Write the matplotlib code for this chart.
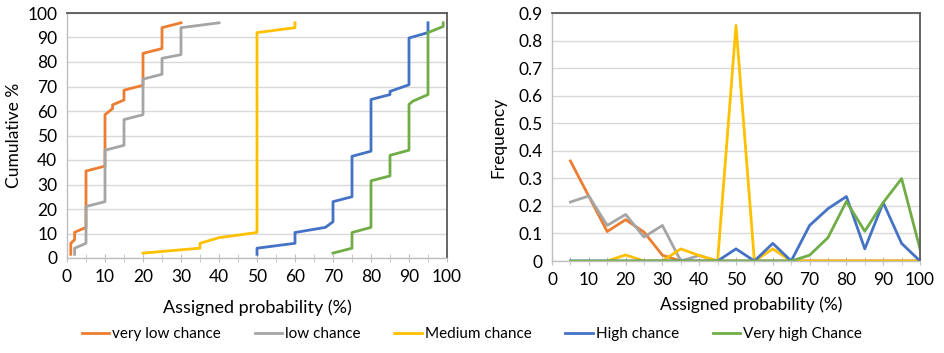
import matplotlib
matplotlib.use("Agg")
import matplotlib.pyplot as plt
import numpy as np

plt.rcParams['font.family'] = ['Lato', 'DejaVu Sans']

# ── 데이터: 누적 분포 (왼쪽) ──────────────────────────────────────────
vlow_x = [1, 1, 2, 2, 5, 5, 10, 10, 12, 12, 15, 15, 20, 20, 25, 25, 30]
vlow_y = [1.5, 6, 7.5, 10.5, 12.5, 35.5, 37.5, 58.5, 61, 62.5, 64.5, 68.5, 70.5, 83.5, 85.5, 94, 96]

low_x = [2, 2, 5, 5, 10, 10, 15, 15, 20, 20, 25, 25, 30, 30, 40]
low_y = [1.5, 4, 6, 21, 23, 44, 46, 56.5, 58.5, 73, 75, 81.5, 83, 94, 96]

med_x = [20, 35, 35, 40, 50, 50, 60, 60]
med_y = [2, 4, 6, 8.3, 10.4, 92, 94, 96]

high_x = [50, 50, 60, 60, 68, 70, 70, 75, 75, 80, 80, 85, 85, 90, 90, 95, 95]
high_y = [1.5, 4, 6, 10.4, 12.5, 14.8, 23, 25, 41.5, 43.6, 64.7, 66.7, 68, 70.7, 89.8, 92, 96]

vhigh_x = [70, 75, 75, 80, 80, 85, 85, 90, 90, 91, 95, 95, 99, 99]
vhigh_y = [2, 4, 10.4, 12.5, 31.5, 33.5, 41.9, 44, 62.7, 64, 66.7, 92, 94.5, 96]

# ── 데이터: 빈도 (오른쪽) ────────────────────────────────────────────
prob = [5, 10, 15, 20, 25, 30, 35, 40, 45, 50, 55, 60, 65, 70, 75, 80, 85, 90, 95, 100]
f_vlow = [0.363, 0.235, 0.107, 0.15, 0.105, 0.021, 0, 0, 0, 0, 0, 0, 0, 0, 0, 0, 0, 0, 0, 0]
f_low = [0.214, 0.236, 0.129, 0.169, 0.087, 0.129, 0, 0.02, 0, 0, 0, 0, 0, 0, 0, 0, 0, 0, 0, 0]
f_med = [np.nan, np.nan, 0, 0.022, 0, 0, 0.044, 0.02, 0, 0.855, 0, 0.044, 0, 0, 0, 0, 0, 0, 0, 0]
f_high = [0, 0, 0, 0, 0, 0, 0, 0, 0, 0.044, 0, 0.064, 0, 0.129, 0.19, 0.234, 0.044, 0.212, 0.064, 0]
f_vhigh = [0, 0, 0, 0, 0, 0, 0, 0, 0, 0, 0, 0, 0, 0.021, 0.085, 0.216, 0.108, 0.212, 0.299, 0.044]

labels = ["very low chance", "low chance", "Medium chance", "High chance", "Very high Chance"]
colors = ["#ED7D31", "#A5A5A5", "#FFC000", "#4472C4", "#70AD47"]

cum_series = [(vlow_x, vlow_y), (low_x, low_y), (med_x, med_y),
              (high_x, high_y), (vhigh_x, vhigh_y)]
freq_series = [f_vlow, f_low, f_med, f_high, f_vhigh]

fig = plt.figure(figsize=(9.45, 3.53), dpi=100)
W, H = 945, 353
ax1 = fig.add_axes([67 / W, 1 - 258 / H, 380 / W, 245 / H])
ax2 = fig.add_axes([552 / W, 1 - 261 / H, 368 / W, 248 / H])


def style_axes(ax):
    ax.grid(axis="y", color="#d9d9d9", linewidth=1.0)
    ax.set_axisbelow(True)
    for s in ["top", "right"]:
        ax.spines[s].set_color("#595959")
        ax.spines[s].set_linewidth(1.3)
    for s in ["left", "bottom"]:
        ax.spines[s].set_color("#bfbfbf")
        ax.spines[s].set_linewidth(1.0)
    ax.set_xlim(0, 100)
    ax.set_xticks(np.arange(0, 101, 10))
    ax.set_xticks(np.arange(0, 101, 5), minor=True)
    ax.tick_params(axis="x", which="both", direction="inout", length=6,
                   color="#bfbfbf", labelsize=12.5, pad=5)
    ax.tick_params(axis="y", length=0, labelsize=12.5, pad=7)


# ── 왼쪽: 누적 % ────────────────────────────────────────────────────
handles = []
for (xs, ys), c, lab in zip(cum_series, colors, labels):
    h, = ax1.plot(xs, ys, color=c, linewidth=2.0, label=lab)
    handles.append(h)
style_axes(ax1)
ax1.set_ylim(0, 100)
ax1.set_yticks(np.arange(0, 101, 10))
ax1.set_ylabel("Cumulative %", fontsize=12.5)
ax1.set_xlabel("Assigned probability (%)", fontsize=13)
ax1.yaxis.set_label_coords(-0.118, 0.5)
ax1.xaxis.set_label_coords(0.5, -0.171)

# ── 오른쪽: 빈도 ─────────────────────────────────────────────────────
for ys, c in zip(freq_series, colors):
    ax2.plot(prob, ys, color=c, linewidth=2.0)
style_axes(ax2)
ax2.set_ylim(0, 0.9)
ax2.set_yticks(np.arange(0, 0.91, 0.1))
ax2.set_yticklabels(["0"] + [f"{v:.1f}" for v in np.arange(0.1, 0.91, 0.1)])
ax2.set_ylabel("Frequency", fontsize=12.5)
ax2.set_xlabel("Assigned probability (%)", fontsize=12.5)
ax2.yaxis.set_label_coords(-0.125, 0.5)
ax2.xaxis.set_label_coords(0.54, -0.142)

fig.legend(handles=handles, loc="center", bbox_to_anchor=(472 / W, 1 - 334 / H),
           ncol=5, frameon=False, fontsize=11, handlelength=1.8,
           handletextpad=0.2, columnspacing=2.2)

fig.savefig("out.png", dpi=100)
